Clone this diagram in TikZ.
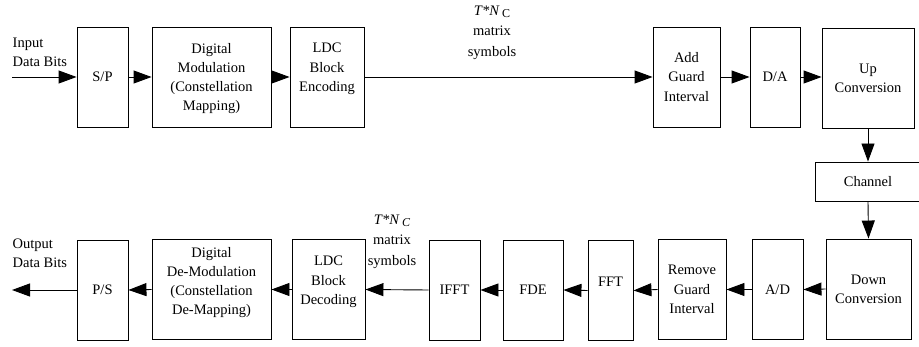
\documentclass[tikz,border=0pt]{standalone}
\usepackage{fontspec}
\setmainfont{Liberation Serif}
\usetikzlibrary{arrows.meta}
\tikzset{
  blk/.style={draw, line width=0.9pt, inner sep=0pt, minimum width=#1},
  blk/.default=50,
  hh/.style={minimum height=100},
  tx/.style={align=center, inner sep=0pt, font=\fontsize{14.5}{19.3}\selectfont},
  sym/.style={align=center, inner sep=0pt, font=\fontsize{14.5}{20.5}\selectfont},
  arr/.style={line width=0.9pt, -{Triangle[length=18pt,width=13pt]}},
}
\begin{document}
\begin{tikzpicture}[x=1pt, y=-1pt, every node/.style={tx}]
\useasboundingbox (0,0) rectangle (919,347);
% top row
\coordinate (in) at (12,77);
\node[blk=51, hh] (sp) at (102.5,77) {S/P};
\node[blk=119, hh, label={[tx, yshift=-1.5]center:Digital\\Modulation\\(Constellation\\Mapping)}] (dm) at (211.5,77) {};
\node[blk=74, hh, label={[tx, yshift=8]center:LDC\\Block\\Encoding}] (ldce) at (327,77) {};
\node[blk=67, hh] (agi) at (686.5,77) {Add\\Guard\\Interval};
\node[blk=50, hh] (da) at (775,77) {D/A};
\node[blk=92, hh] (up) at (868,78) {Up\\Conversion};
\node[blk=106, minimum height=39] (ch) at (868,181.5) {Channel};
% bottom row
\node[blk=85, hh] (down) at (868.5,289) {Down\\Conversion};
\node[blk=51, hh] (ad) at (777.5,289.5) {A/D};
\node[blk=68, hh] (rgi) at (692,289.5) {Remove\\Guard\\Interval};
\node[blk=45, hh, label={[tx, yshift=9]center:FFT}] (fft) at (610.5,290.5) {};
\node[blk=60, hh] (fde) at (533,290) {FDE};
\node[blk=51, hh] (ifft) at (454.5,290) {IFFT};
\node[blk=73, hh, label={[tx, yshift=7.5]center:LDC\\Block\\Decoding}] (ldcd) at (328.5,289.5) {};
\node[blk=119, hh, label={[tx, yshift=7]center:Digital\\De-Modulation\\(Constellation\\De-Mapping)}] (ddm) at (211.5,289.5) {};
\node[blk=51, hh] (ps) at (102.5,290) {P/S};
\coordinate (out) at (12,290);
% labels
\node[align=left, anchor=west] (inl) at (12.5,52) {Input\\Data Bits};
\node[align=left, anchor=west] (outl) at (12.5,253) {Output\\Data Bits};
\node[sym] (lt) at (492,32.5) {\textit{T*N}\,\raisebox{-0.35ex}{\fontsize{12}{12}\selectfont C}\\matrix\\symbols};
\node[sym] (lb) at (392,241.5) {\textit{T*N}\,\raisebox{-0.35ex}{\fontsize{12}{12}\selectfont\itshape C}\\matrix\\symbols};
% connectors
\draw[arr] (in) -- (sp.west);
\draw[arr] (sp.east) -- (dm.west);
\draw[arr] (dm.east) -- (ldce.west);
\draw[arr] (ldce.east) -- (agi.west);
\draw[arr] (agi.east) -- (da.west);
\draw[arr] (da.east) -- (up.west |- da.east);
\draw[arr] (up.south) -- (ch.north);
\draw[arr] (ch.south) -- (down.north);
\draw[arr] (down.west) -- (ad.east);
\draw[arr] (ad.west) -- (rgi.east);
\draw[arr] (rgi.west) -- (fft.east);
\draw[arr] (fft.west) -- (fde.east);
\draw[arr] (fde.west) -- (ifft.east);
\draw[arr] (ifft.west) -- (ldcd.east);
\draw[arr] (ldcd.west) -- (ddm.east);
\draw[arr] (ddm.west) -- (ps.east);
\draw[arr] (ps.west) -- (out);
\end{tikzpicture}
\end{document}
